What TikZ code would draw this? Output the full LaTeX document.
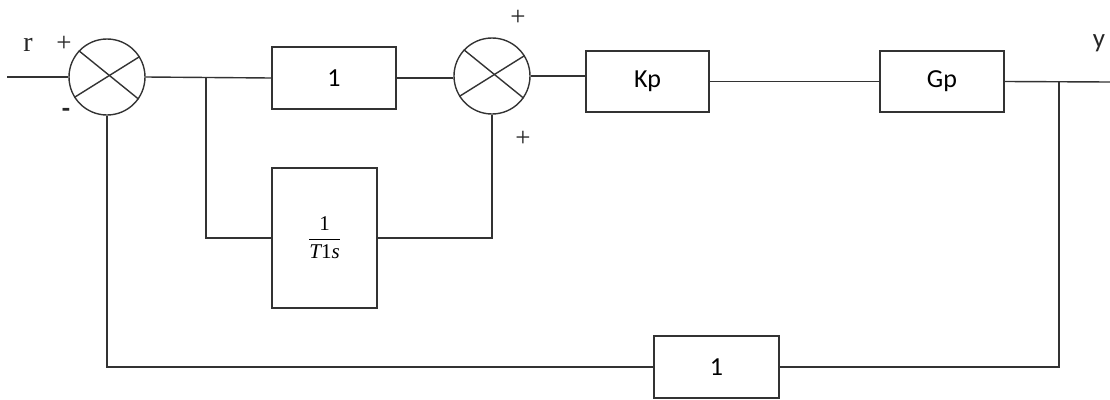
\documentclass[tikz,border=0pt]{standalone}
\usepackage{amsmath}
\usepackage{fontspec}
\setmainfont{Liberation Serif}
\newfontfamily\calib{Carlito}
\usetikzlibrary{calc}
\tikzset{
  wire/.style={draw=black!80, line width=1.4pt},
  blk/.style={draw=black!80, line width=1.4pt, rectangle, inner sep=0pt, font=\calib\fontsize{26}{30}\selectfont},
  sumj/.style={draw=black!80, line width=1.4pt, circle, minimum size=76pt, inner sep=0pt},
  sgn/.style={font=\fontsize{27}{29}\selectfont, text=black!85},
  sgnc/.style={font=\calib\fontsize{27}{29}\selectfont, text=black!85},
}
\begin{document}
\begin{tikzpicture}[x=1pt,y=-1pt]
\useasboundingbox (0,0) rectangle (1110,399);
% summing junctions
\node[sumj] (c1) at (107,77) {};
\node[sumj] (c2) at (492,76) {};
\foreach \c in {c1,c2}{
  \draw[wire] (\c.137) -- (\c.-35);
  \draw[wire] (\c.32) -- (\c.212);
}
% blocks
\node[blk, minimum width=124pt, minimum height=62pt] (b1) at (334,78) {1};
\node[blk, minimum width=105pt, minimum height=140pt] (bi) at (324.5,238)
  {\rmfamily\fontsize{21}{23}\selectfont$\dfrac{\text{1}}{\textit{T}\text{1}\textit{s}}$};
\node[blk, minimum width=123pt, minimum height=61pt] (kp) at (647.5,81.5) {Kp};
\node[blk, minimum width=124pt, minimum height=61pt] (gp) at (942,81.5) {Gp};
\node[blk, minimum width=125pt, minimum height=62pt] (bf) at (716.5,367) {1};
% coordinates
\coordinate (in) at (7,77);
\coordinate (out) at (1110,82);
\coordinate (br1) at (206,78);
\coordinate (br2) at (1059,82);
% connectors
\draw[wire] (in) -- (c1.west);
\draw[wire] (c1.east) -- (b1.west);
\draw[wire] (br1) |- (bi.west);
\draw[wire] (b1.east) -- (b1.east -| c2.west);
\draw[wire] (bi.east) -| (c2.south);
\draw[wire] (c2.east) -- (c2.east -| kp.west);
\draw[wire] (kp.east) -- (gp.west);
\draw[wire] (gp.east) -- (out);
\draw[wire] (br2) |- (bf.east);
\draw[wire] (bf.west) -| (c1.south);
% labels
\node[sgn, font=\fontsize{28}{30}\selectfont] (r) at (28,45) {r};
\node[sgn] (p1) at (64,44) {+};
\node[sgnc, font=\calib\bfseries\fontsize{27}{29}\selectfont] (m1) at (66,113) {-};
\node[sgn] (p2) at (518,18) {+};
\node[sgn] (p3) at (523,139) {+};
\node[sgnc] (y) at (1099,43) {y};
\end{tikzpicture}
\end{document}
